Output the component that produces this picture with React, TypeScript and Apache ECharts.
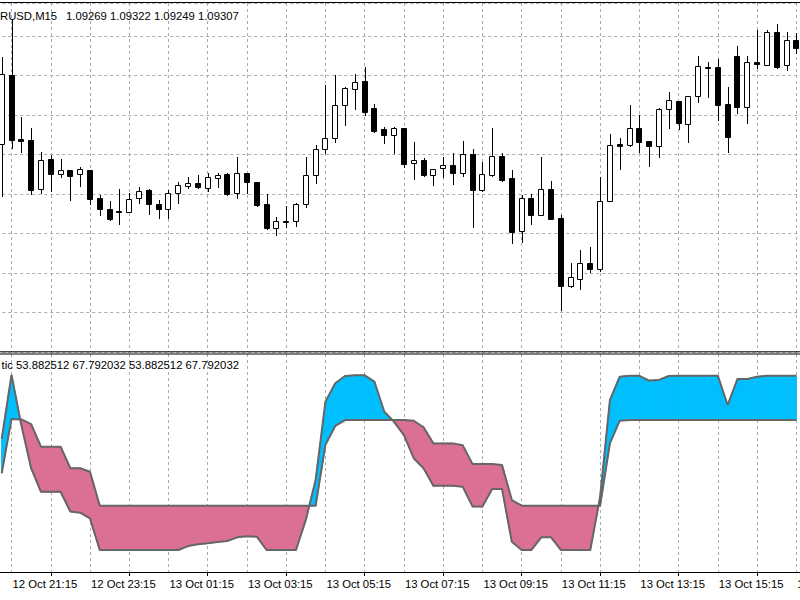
import React, { useEffect, useRef } from "react";
import * as echarts from "echarts";

// ---------- data ----------
const tickLabels = [
  "12 Oct 21:15", "12 Oct 23:15", "13 Oct 01:15", "13 Oct 03:15", "13 Oct 05:15",
  "13 Oct 07:15", "13 Oct 09:15", "13 Oct 11:15", "13 Oct 13:15", "13 Oct 15:15", "13 Oct 17:15",
];
// bar positions in minutes counted from 12 Oct 21:15 (first bar = 12 Oct 21:00)
const firstBarMinute = -15;
const barMinutes = 15;
const labelEveryMinutes = 120;

const openPrices = [
  1.08939, 1.09201, 1.08959, 1.08954, 1.08768, 1.08885, 1.08828, 1.08843, 1.08828, 1.08843,
  1.08736, 1.08693, 1.08685, 1.08683, 1.08734, 1.08764, 1.08714, 1.08692, 1.08753, 1.08782,
  1.08792, 1.08772, 1.08810, 1.08826, 1.08753, 1.08829, 1.08796, 1.08712, 1.08622, 1.08647,
  1.08647, 1.08711, 1.08823, 1.08921, 1.08962, 1.09089, 1.09148, 1.09179, 1.09076, 1.08997,
  1.08976, 1.09001, 1.08869, 1.08880, 1.08823, 1.08848, 1.08862, 1.08831, 1.08904, 1.08766,
  1.08823, 1.08895, 1.08810, 1.08610, 1.08736, 1.08671, 1.08768, 1.08658, 1.08401, 1.08427,
  1.08489, 1.08464, 1.08724, 1.08940, 1.08938, 1.09001, 1.08951, 1.08934, 1.09073, 1.09104,
  1.09018, 1.09124, 1.09234, 1.09234, 1.09091, 1.09276, 1.09082, 1.09252, 1.09241, 1.09365,
  1.09241, 1.09336,
];
const highPrices = [
  1.09270, 1.09412, 1.09044, 1.09002, 1.08911, 1.08899, 1.08883, 1.08843, 1.08854, 1.08843,
  1.08747, 1.08723, 1.08769, 1.08754, 1.08776, 1.08768, 1.08728, 1.08766, 1.08795, 1.08815,
  1.08824, 1.08831, 1.08829, 1.08829, 1.08892, 1.08831, 1.08796, 1.08750, 1.08663, 1.08705,
  1.08717, 1.08892, 1.08937, 1.09165, 1.09201, 1.09158, 1.09205, 1.09234, 1.09091, 1.09006,
  1.09006, 1.09001, 1.08947, 1.08888, 1.08847, 1.08890, 1.08907, 1.08951, 1.08921, 1.08871,
  1.09001, 1.08907, 1.08842, 1.08747, 1.08749, 1.08890, 1.08801, 1.08671, 1.08489, 1.08538,
  1.08550, 1.08816, 1.08977, 1.08964, 1.09090, 1.09049, 1.08951, 1.09076, 1.09137, 1.09104,
  1.09122, 1.09276, 1.09253, 1.09262, 1.09156, 1.09313, 1.09275, 1.09374, 1.09374, 1.09396,
  1.09365, 1.09361,
];
const lowPrices = [
  1.08743, 1.08924, 1.08911, 1.08750, 1.08753, 1.08761, 1.08814, 1.08728, 1.08782, 1.08712,
  1.08671, 1.08652, 1.08636, 1.08682, 1.08715, 1.08674, 1.08658, 1.08658, 1.08715, 1.08772,
  1.08772, 1.08763, 1.08776, 1.08747, 1.08734, 1.08753, 1.08706, 1.08616, 1.08593, 1.08626,
  1.08630, 1.08700, 1.08793, 1.08905, 1.08947, 1.09013, 1.09072, 1.09051, 1.08987, 1.08943,
  1.08905, 1.08854, 1.08807, 1.08819, 1.08785, 1.08816, 1.08790, 1.08819, 1.08626, 1.08761,
  1.08819, 1.08800, 1.08563, 1.08567, 1.08636, 1.08671, 1.08655, 1.08310, 1.08396, 1.08391,
  1.08455, 1.08458, 1.08724, 1.08844, 1.08934, 1.08909, 1.08858, 1.08892, 1.09002, 1.08997,
  1.08947, 1.09100, 1.09120, 1.09032, 1.08910, 1.09059, 1.09021, 1.09230, 1.09241, 1.09230,
  1.09222, 1.09287,
];
const closePrices = [
  1.09205, 1.08956, 1.08953, 1.08766, 1.08880, 1.08828, 1.08842, 1.08819, 1.08844, 1.08730,
  1.08692, 1.08655, 1.08684, 1.08730, 1.08763, 1.08711, 1.08693, 1.08754, 1.08783, 1.08792,
  1.08776, 1.08815, 1.08824, 1.08750, 1.08829, 1.08796, 1.08709, 1.08620, 1.08648, 1.08648,
  1.08712, 1.08824, 1.08921, 1.08964, 1.09089, 1.09154, 1.09177, 1.09063, 1.08990, 1.08976,
  1.09002, 1.08863, 1.08880, 1.08821, 1.08847, 1.08862, 1.08831, 1.08904, 1.08766, 1.08825,
  1.08895, 1.08804, 1.08607, 1.08736, 1.08671, 1.08768, 1.08655, 1.08401, 1.08434, 1.08489,
  1.08464, 1.08725, 1.08935, 1.08934, 1.09001, 1.08948, 1.08934, 1.09072, 1.09108, 1.09021,
  1.09122, 1.09238, 1.09233, 1.09087, 1.08967, 1.09082, 1.09253, 1.09243, 1.09365, 1.09234,
  1.09336, 1.09306,
];

const stochMain = [
  61.0, 90.4, 67.4, 47.6, 36.8, 36.8, 36.8, 27.7, 27.2, 24.6,
  10.1, 10.1, 10.1, 10.1, 10.1, 10.1, 10.1, 10.1, 10.1, 11.9,
  12.7, 13.2, 13.8, 14.2, 15.9, 16.4, 16.2, 10.1, 10.1, 10.1,
  10.1, 23.9, 42.2, 78.1, 86.6, 89.9, 90.2, 90.2, 87.3, 73.5,
  68.9, 62.8, 52.2, 47.6, 39.6, 39.6, 39.6, 39.1, 30.0, 30.0,
  38.1, 38.1, 13.9, 10.1, 10.1, 15.9, 15.9, 10.1, 10.1, 10.1,
  10.1, 34.5, 78.9, 89.6, 90.0, 90.0, 87.8, 88.1, 89.9, 90.0,
  90.0, 90.0, 90.0, 90.0, 76.6, 88.5, 88.5, 89.6, 90.0, 90.0,
  90.0, 90.0,
];
const stochSignal = [
  45.3, 70.2, 70.0, 67.8, 57.5, 57.5, 57.5, 47.6, 47.6, 46.0,
  30.4, 30.4, 30.4, 30.4, 30.4, 30.4, 30.4, 30.4, 30.4, 30.4,
  30.4, 30.4, 30.4, 30.4, 30.4, 30.4, 30.4, 30.4, 30.4, 30.4,
  30.4, 30.4, 30.4, 58.3, 67.0, 69.7, 69.7, 69.7, 69.7, 69.7,
  69.7, 69.7, 69.4, 66.4, 59.0, 59.0, 59.0, 58.1, 49.5, 49.5,
  49.5, 49.1, 33.0, 30.4, 30.4, 30.4, 30.4, 30.4, 30.4, 30.4,
  30.4, 30.4, 59.0, 69.4, 69.7, 69.7, 69.7, 69.7, 69.7, 69.7,
  69.7, 69.7, 69.7, 69.7, 69.7, 69.7, 69.7, 69.7, 69.7, 69.7,
  69.7, 69.7,
];

const titleSymbol = "RUSD,M15";
const titleValues = "1.09269 1.09322 1.09249 1.09307";
const indicatorLabel = "tic 53.882512 67.792032 53.882512 67.792032";

// ---------- styling / layout ----------
const FONT = "'Liberation Sans', Arial, sans-serif";
const FS = 11.3;
const GRID_LEFT = -27.73;
const GRID_W = 863.28;
const X_MIN = -60;
const X_MAX = 1260;
const UP = "#00bfff";
const DOWN = "#db7093";
const LINE = "#666666";
const GRIDC = "#ababab";

const barX = (i: number) => firstBarMinute + i * barMinutes;

const candleData = openPrices.map((o, i) => [barX(i), o, closePrices[i], lowPrices[i], highPrices[i]]);
const fillData = stochMain.slice(0, -1).map((m, i) => [
  barX(i), m, stochSignal[i], barX(i + 1), stochMain[i + 1], stochSignal[i + 1],
]);
const mainLine = stochMain.map((v, i) => [barX(i), v]);
const signalLine = stochSignal.map((v, i) => [barX(i), v]);
const labelData = tickLabels.map((_, k) => [k * labelEveryMinutes, 0, k]);

const renderCandle = (_p: any, api: any) => {
  const x = api.value(0);
  const o = api.value(1), c = api.value(2), l = api.value(3), h = api.value(4);
  const po = api.coord([x, o]);
  const pc = api.coord([x, c]);
  const pl = api.coord([x, l]);
  const ph = api.coord([x, h]);
  const n = Math.round(po[0]);
  const top = Math.round(Math.min(po[1], pc[1]));
  const bot = Math.round(Math.max(po[1], pc[1]));
  const bull = c > o;
  return {
    type: "group",
    children: [
      {
        type: "line",
        shape: { x1: n + 0.5, y1: Math.round(ph[1]), x2: n + 0.5, y2: Math.round(pl[1]) + 1 },
        style: { stroke: "#000", lineWidth: 1 },
      },
      {
        type: "rect",
        shape: { x: n - 2.5, y: top + 0.5, width: 5, height: Math.max(1, bot - top) },
        style: { fill: bull ? "#fff" : "#000", stroke: "#000", lineWidth: 1 },
      },
    ],
  };
};

const renderFill = (_p: any, api: any) => {
  const x0 = api.value(0), m0 = api.value(1), s0 = api.value(2);
  const x1 = api.value(3), m1 = api.value(4), s1 = api.value(5);
  const d0 = m0 - s0, d1 = m1 - s1;
  const children: any[] = [];
  const poly = (pts: number[][], fill: string) =>
    children.push({
      type: "polygon",
      shape: { points: pts.map((p) => api.coord(p)) },
      style: { fill, stroke: fill, lineWidth: 1.2, lineJoin: "miter" },
    });
  if (d0 * d1 < 0) {
    const t = d0 / (d0 - d1);
    const xc = x0 + t * (x1 - x0);
    const vc = m0 + t * (m1 - m0);
    poly([[x0, m0], [xc, vc], [x0, s0]], d0 > 0 ? UP : DOWN);
    poly([[xc, vc], [x1, m1], [x1, s1]], d1 > 0 ? UP : DOWN);
  } else {
    const d = d0 !== 0 ? d0 : d1;
    if (d !== 0) poly([[x0, m0], [x1, m1], [x1, s1], [x0, s0]], d > 0 ? UP : DOWN);
  }
  return { type: "group", children };
};

// time-axis labels, placed through the stochastic grid's x scale
const renderTimeLabel = (_p: any, api: any) => {
  const p = api.coord([api.value(0), api.value(1)]);
  const k = api.value(2);
  return {
    type: "text",
    x: p[0] + 1,
    y: p[1] + 12,
    style: {
      text: tickLabels[k],
      fontSize: FS,
      fontFamily: FONT,
      fill: "#000",
      align: "left",
      verticalAlign: "middle",
    },
  };
};

const dashed = { show: true, lineStyle: { color: GRIDC, type: [3, 3] as any, width: 1 } };
const hidden = { show: false };

const option: any = {
  animation: false,
  backgroundColor: "#ffffff",
  grid: [
    { left: GRID_LEFT, top: 3, width: GRID_W, height: 349, containLabel: false, outerBoundsMode: "none" },
    { left: GRID_LEFT, top: 354, width: GRID_W, height: 218, containLabel: false, outerBoundsMode: "none" },
  ],
  xAxis: [
    {
      gridIndex: 0, type: "value", min: X_MIN, max: X_MAX, interval: 60,
      axisLine: hidden, axisTick: hidden, axisLabel: hidden, splitLine: dashed,
    },
    {
      gridIndex: 1, type: "value", min: X_MIN, max: X_MAX, interval: 60, position: "bottom",
      axisLine: hidden, axisTick: hidden, axisLabel: hidden, splitLine: dashed,
    },
    {
      gridIndex: 1, type: "value", min: X_MIN, max: X_MAX, interval: labelEveryMinutes, position: "bottom",
      axisLine: { show: true, lineStyle: { color: "#000", width: 1 } },
      axisTick: { show: true, length: 4, lineStyle: { color: "#000" } },
      splitLine: hidden,
      axisLabel: hidden,
    },
  ],
  yAxis: [
    {
      gridIndex: 0, type: "value", min: 1.0815, max: 1.094762, interval: 0.0015,
      axisLine: hidden, axisTick: hidden, axisLabel: hidden, splitLine: dashed,
    },
    {
      gridIndex: 1, type: "value", min: 0, max: 100,
      axisLine: hidden, axisTick: hidden, axisLabel: hidden, splitLine: hidden,
    },
  ],
  series: [
    {
      type: "custom", name: "EURUSD", xAxisIndex: 0, yAxisIndex: 0, z: 5,
      renderItem: renderCandle, data: candleData, encode: { x: 0, y: [1, 2, 3, 4] }, silent: true,
    },
    {
      type: "custom", name: "fill", xAxisIndex: 1, yAxisIndex: 1, z: 3,
      renderItem: renderFill, data: fillData, encode: { x: [0, 3], y: [1, 2, 4, 5] }, silent: true,
    },
    {
      type: "line", name: "main", xAxisIndex: 1, yAxisIndex: 1, z: 6, data: mainLine,
      symbol: "none", silent: true, lineStyle: { color: LINE, width: 2 },
    },
    {
      type: "line", name: "signal", xAxisIndex: 1, yAxisIndex: 1, z: 6, data: signalLine,
      symbol: "none", silent: true, lineStyle: { color: LINE, width: 2 },
    },
    {
      type: "custom", name: "timeLabels", xAxisIndex: 1, yAxisIndex: 1, z: 7, clip: false,
      renderItem: renderTimeLabel, data: labelData, encode: { x: 0, y: 1 }, silent: true,
    },
  ],
  graphic: [
    { type: "line", z: 50, shape: { x1: 0, y1: 2.5, x2: 800, y2: 2.5 }, style: { stroke: "#000", lineWidth: 1 } },
    { type: "line", z: 50, shape: { x1: 0, y1: 351.8, x2: 800, y2: 351.8 }, style: { stroke: "#000", lineWidth: 1 } },
    { type: "line", z: 50, shape: { x1: 0, y1: 354, x2: 800, y2: 354 }, style: { stroke: "#000", lineWidth: 1 } },
    {
      type: "text", z: 50, x: 0, y: 16,
      style: { text: titleSymbol, fontSize: FS, fontFamily: FONT, fill: "#000", verticalAlign: "middle" },
    },
    {
      type: "text", z: 50, x: 66, y: 16,
      style: { text: titleValues, fontSize: FS, fontFamily: FONT, fill: "#000", verticalAlign: "middle" },
    },
    {
      type: "text", z: 50, x: 1.5, y: 364.5,
      style: { text: indicatorLabel, fontSize: FS, fontFamily: FONT, fill: "#000", verticalAlign: "middle" },
    },
  ],
};

export default function App() {
  const ref = useRef<HTMLDivElement>(null);
  useEffect(() => {
    if (!ref.current) return;
    const chart = echarts.init(ref.current, undefined, { renderer: "svg", width: 800, height: 600 });
    chart.setOption(option);
    return () => chart.dispose();
  }, []);
  return (
    <div
      ref={ref}
      style={{ position: "fixed", left: 0, top: 0, width: 800, height: 600, background: "#fff" }}
    />
  );
}
